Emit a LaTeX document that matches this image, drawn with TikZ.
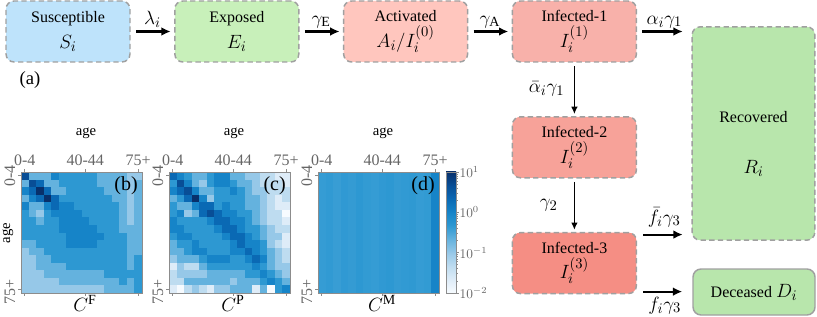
\documentclass[tikz,border=0pt]{standalone}
\usepackage{fontspec}
\setmainfont{Liberation Serif}
\usetikzlibrary{arrows.meta,positioning}
\definecolor{susblue}{RGB}{190,227,251}
\definecolor{expgreen}{RGB}{200,240,186}
\definecolor{actred}{RGB}{255,198,190}
\definecolor{infred1}{RGB}{248,177,170}
\definecolor{infred2}{RGB}{247,162,153}
\definecolor{infred3}{RGB}{245,142,132}
\definecolor{recgreen}{RGB}{184,230,172}
\definecolor{boxgray}{RGB}{160,160,160}
\definecolor{cm0}{RGB}{247,251,255}
\definecolor{cm1}{RGB}{222,236,248}
\definecolor{cm2}{RGB}{190,220,240}
\definecolor{cm3}{RGB}{150,200,232}
\definecolor{cm4}{RGB}{100,178,222}
\definecolor{cm5}{RGB}{45,152,210}
\definecolor{cm6}{RGB}{22,132,200}
\definecolor{cm7}{RGB}{10,105,180}
\definecolor{cm8}{RGB}{8,78,150}
\definecolor{cm9}{RGB}{8,48,107}
\newcommand{\mfs}{\fontsize{15}{18}\selectfont}

\begin{document}
\begin{tikzpicture}[x=0.75pt, y=-0.75pt, >=Latex, node distance=32.5pt,
  box/.style={draw=boxgray, dash pattern=on 4pt off 2.5pt, line width=1.1pt,
    rounded corners=6pt, minimum width=93pt, minimum height=45.75pt,
    align=center, inner sep=0pt, font=\fontsize{12}{14}\selectfont},
  flow/.style={line width=1.6pt, shorten <=4pt, shorten >=2.5pt,
    -{Latex[length=7pt,width=6.5pt]}},
  drop/.style={line width=1.1pt, shorten <=2.5pt, shorten >=1.5pt,
    -{Latex[length=5.5pt,width=5pt]}},
  ratelbl/.style={font=\mfs, inner sep=2pt},
  axtick/.style={black!45, line width=0.5pt},
  ticklbl/.style={black!60, font=\fontsize{12}{14}\selectfont, inner sep=1pt},
  cblbl/.style={black!60, font=\fontsize{10}{12}\selectfont, inner sep=1pt}]
\useasboundingbox (0,0) rectangle (817,317);

% compartments
\node[box, fill=susblue] (sus) at (68,31.5) {Susceptible\\[5pt]\mfs$S_i$};
\node[box, fill=expgreen, right=of sus] (exp) {Exposed\\[5pt]\mfs$E_i$};
\node[box, fill=actred, right=of exp] (act) {Activated\\[2pt]\mfs$A_i/I_i^{(0)}$};
\node[box, fill=infred1, right=of act] (inf1) {Infected-1\\[2pt]\mfs$I_i^{(1)}$};
\node[box, fill=infred2, below=40pt of inf1] (inf2) {Infected-2\\[2pt]\mfs$I_i^{(2)}$};
\node[box, fill=infred3, below=40pt of inf2] (inf3) {Infected-3\\[2pt]\mfs$I_i^{(3)}$};
\node[box, fill=recgreen, minimum width=92pt, minimum height=160pt] (rec)
  at (753.5,133.5) {\rule{0pt}{24pt}Recovered\\[24pt]\mfs$R_i$};
\node[box, fill=recgreen, solid, minimum width=91.5pt, minimum height=34.5pt] (dec)
  at (754,292) {Deceased\ \mfs$D_i$};
\node[font=\fontsize{14}{16}\selectfont] (lbla) at (30,80) {(a)};

% transitions
\draw[flow] (sus) -- node[ratelbl, above] {$\lambda_i$} (exp);
\draw[flow] (exp) -- node[ratelbl, above] {$\gamma_{\mathrm{E}}$} (act);
\draw[flow] (act) -- node[ratelbl, above] {$\gamma_{\mathrm{A}}$} (inf1);
\draw[flow, shorten >=6.5pt] (inf1) -- node[ratelbl, above] {$\alpha_i\gamma_1$} (inf1 -| rec.west);
\draw[drop] (inf1) -- node[ratelbl, left=5pt] {$\bar{\alpha}_i\gamma_1$} (inf2);
\draw[drop] (inf2) -- node[ratelbl, left=10pt] {$\gamma_2$} (inf3);
\coordinate (f1) at ([yshift=21.4pt]inf3.east);
\coordinate (f2) at ([yshift=-21.4pt]inf3.east);
\draw[flow, shorten <=4.5pt, shorten >=6.5pt] (f1) -- node[ratelbl, above=3pt] {$\bar{f}_i\gamma_3$} (f1 -| rec.west);
\draw[flow, shorten <=4.5pt, shorten >=7.5pt] (f2) -- node[ratelbl, below=1pt] {$f_i\gamma_3$} (f2 -| dec.west);

% contact matrices
\foreach \row [count=\r from 0] in {
  {8,4,4,4,6,5,5,5,5,5,4,4,4,4,3,3},{4,8,7,4,4,5,5,5,5,5,4,4,4,4,3,4},
  {6,7,9,7,4,4,5,5,5,5,5,4,4,4,3,4},{4,6,7,9,7,5,5,5,5,5,5,5,4,4,3,4},
  {6,4,4,6,7,6,6,5,5,5,5,5,5,4,3,4},{5,4,3,5,6,6,6,6,5,5,5,5,5,4,3,4},
  {5,5,4,5,5,6,6,6,6,5,5,5,5,4,3,4},{5,5,5,5,5,6,6,6,6,6,5,5,5,4,4,4},
  {5,5,5,5,5,5,6,6,6,6,6,5,5,5,4,4},{4,4,5,5,5,5,6,6,6,6,5,5,5,5,4,4},
  {3,4,4,5,5,5,5,5,5,5,5,5,5,5,4,4},{3,3,4,4,5,5,5,5,5,5,5,5,5,5,4,5},
  {3,3,4,4,4,4,5,5,5,5,5,5,5,5,4,5},{3,3,3,4,4,4,4,4,4,4,4,5,5,5,5,5},
  {3,3,3,3,3,4,4,4,4,4,4,4,4,5,4,5},{3,3,3,3,3,3,3,3,3,3,3,4,4,4,4,5}}
  \foreach \v [count=\c from 0] in \row
    \fill[cm\v] (21+\c*7.5625,172+\r*7.5625) rectangle ++(7.7,7.7);
\foreach \row [count=\r from 0] in {
  {7,6,5,4,4,5,6,6,4,4,3,3,2,2,1,1},{5,8,6,4,3,5,6,6,5,4,4,3,2,2,2,1},
  {6,7,8,6,4,4,5,5,6,5,4,3,3,2,2,2},{4,5,7,9,6,3,5,5,5,5,4,4,3,2,1,2},
  {5,4,4,6,7,7,5,6,5,5,4,4,3,2,1,1},{5,6,3,4,7,8,7,6,6,5,5,4,3,2,2,0},
  {6,5,5,5,5,6,7,7,6,6,5,4,3,2,2,1},{6,6,5,5,5,5,6,7,7,6,5,5,4,3,2,2},
  {5,6,6,5,5,5,5,6,7,7,6,5,4,3,3,1},{4,5,5,6,5,5,5,5,6,7,6,6,5,3,2,1},
  {4,4,5,6,6,5,5,5,6,6,7,6,5,4,3,2},{3,4,4,4,5,6,6,6,5,5,6,7,6,4,3,2},
  {1,3,2,2,4,5,5,5,5,5,5,6,5,4,3,3},{2,3,3,3,3,4,4,4,4,4,5,5,6,5,4,3},
  {2,2,4,4,4,4,4,4,3,4,4,4,5,6,5,4},{1,0,2,3,2,1,3,3,4,4,4,1,4,0,5,6}}
  \foreach \v [count=\c from 0] in \row
    \fill[cm\v] (169+\c*7.5625,172+\r*7.5625) rectangle ++(7.7,7.7);
\foreach \p [count=\c from 0] in {85,92,80,95,88,100,90,85,95,100,88,92,96,85,90}
  \fill[cm5!\p!cm4] (318+\c*7.5625,172) rectangle ++(7.7,121);
\fill[cm6] (318+15*7.5625,172) rectangle (439,293);

% axes of the three panels
\foreach \px/\nm/\lt in {21/F/b,169/P/c,318/M/d} {
  \draw[axtick] (\px,172) rectangle ++(121,121);
  \foreach \t/\tl [count=\k] in {0.5/0-4,8.5/40-44,15.5/75+} {
    \draw[axtick] (\px+\t*7.5625,172) -- ++(0,-3);
    \draw[axtick] (\px+\t*7.5625,293) -- ++(0,3);
    \node[ticklbl, above] (tk\lt\k) at (\px+\t*7.5625,167) {\tl};
  }
  \draw[axtick] (\px,175.8) -- ++(-3,0);
  \draw[axtick] (\px,289.2) -- ++(-3,0);
  \node[ticklbl, rotate=90, anchor=south] (top\lt) at (\px-4,175.8) {0-4};
  \node[ticklbl, rotate=90, anchor=south] (bot\lt) at (\px-4,292) {75+};
  \node[font=\fontsize{11}{13}\selectfont] (age\lt) at (\px+65,133) {age};
  \node[font=\mfs] (mat\lt) at (\px+64,303) {$C^{\mathrm{\nm}}$};
  \node[font=\mfs, anchor=north east, inner sep=0pt] (pnl\lt) at (\px+117,176) {(\lt)};
}
\node[font=\fontsize{11}{13}\selectfont, rotate=90] (agey) at (8,233) {age};

% colour bar
\foreach \k [evaluate=\k as \kk using int(\k+1)] in {0,...,8}
  \shade[bottom color=cm\k, top color=cm\kk] (446,293-\k*13.444) rectangle (456,293-\kk*13.444-0.3);
\draw[axtick] (446,172) rectangle (456,293);
\foreach \d in {0,1,2}
  \foreach \m in {2,...,9}
    \draw[axtick] (456,{293-40.333*(\d+ln(\m)/ln(10))}) -- ++(1.8,0);
\foreach \e [count=\k from 0] in {-2,-1,0,1} {
  \draw[axtick] (456,293-\k*40.333) -- ++(3,0);
  \node[cblbl, right] (cb\k) at (458,293-\k*40.333) {$10^{\e}$};
}
\end{tikzpicture}
\end{document}
